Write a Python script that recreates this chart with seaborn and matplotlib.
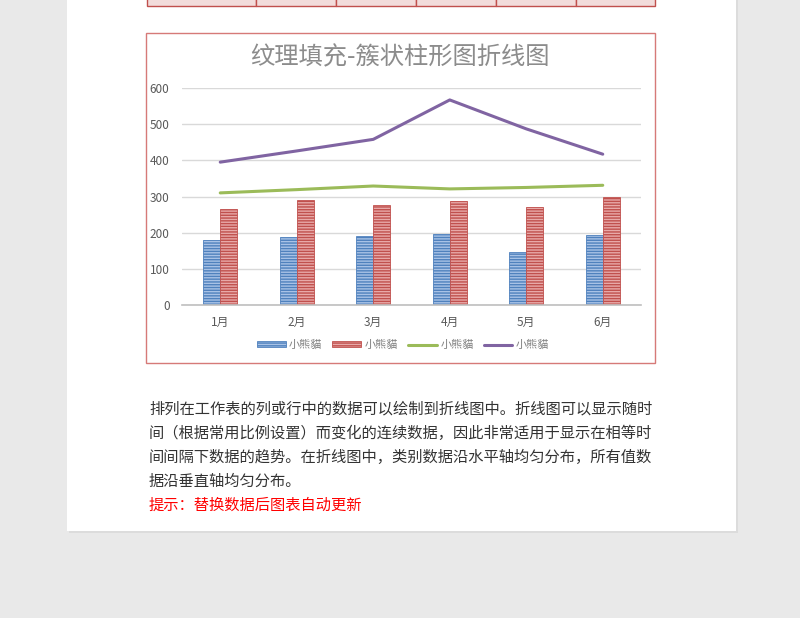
import numpy as np
import pandas as pd
import seaborn as sns
import matplotlib.pyplot as plt
from matplotlib.patches import Rectangle, Patch
from matplotlib.lines import Line2D

# 数据
months = ["1月", "2月", "3月", "4月", "5月", "6月"]
bar_blue = [180, 188, 191, 196, 147, 193]
bar_red = [265, 290, 276, 288, 271, 300]
line_green = [310, 319, 329, 321, 325, 331]
line_purple = [395, 426, 458, 567, 487, 417]
series_name = "小熊貓"

sns.set_theme(style="white")
plt.rcParams['font.family'] = ['Noto Sans CJK SC', 'DejaVu Sans']
plt.rcParams['hatch.linewidth'] = 1.0

W, H = 800, 618
fig = plt.figure(figsize=(8, 6.18), dpi=100, facecolor="#e9e9e9")


def fx(x):
    return x / W


def fy(y):
    return 1 - y / H


# 页面背景
fig.patches.append(Rectangle((fx(69), fy(533)), (738 - 69) / W, 533 / H,
                             transform=fig.transFigure, facecolor="#dcdcdc",
                             edgecolor="none", zorder=0))
fig.patches.append(Rectangle((fx(67), fy(531)), (736 - 67) / W, 531 / H,
                             transform=fig.transFigure, facecolor="white",
                             edgecolor="none", zorder=0))

# 顶部表格残留
cols = [147, 256, 336, 416, 496, 576, 655]
for a, b in zip(cols[:-1], cols[1:]):
    fig.patches.append(Rectangle((fx(a), fy(6)), (b - a) / W, 8 / H,
                                 transform=fig.transFigure, facecolor="#f2dcdb",
                                 edgecolor="#c0504d", linewidth=1.0, zorder=1))

# 图表外框
fig.patches.append(Rectangle((fx(146), fy(363)), (655 - 146) / W, (363 - 33) / H,
                             transform=fig.transFigure, facecolor="white",
                             edgecolor="#d67a78", linewidth=1.0, zorder=1))

ax = fig.add_axes([fx(182), fy(305), (641 - 182) / W, (305 - 88) / H])
ax.set_zorder(2)
ax.patch.set_alpha(0)

df = pd.DataFrame({
    "月份": months * 2,
    "数值": bar_blue + bar_red,
    "系列": ["A"] * len(months) + ["B"] * len(months),
})

fills = {"A": "#a8c2e6", "B": "#e8a9a8"}
hatch_cols = {"A": "#4f81bd", "B": "#c0504d"}

sns.barplot(data=df, x="月份", y="数值", hue="系列", palette=fills,
            width=0.45, gap=0, legend=False, ax=ax, saturation=1)

for cont, key in zip(ax.containers, ["A", "B"]):
    for p in cont:
        p.set_hatch("------")
        p.set_edgecolor(hatch_cols[key])
        p.set_linewidth(0.6)

xs = np.arange(len(months))
sns.lineplot(x=xs, y=line_green, color="#9bbb59", linewidth=2.2, ax=ax)
sns.lineplot(x=xs, y=line_purple, color="#8064a2", linewidth=2.2, ax=ax)

ax.set_xlim(-0.5, len(months) - 0.5)
ax.set_ylim(0, 600)
ax.set_yticks(range(0, 601, 100))
ax.set_xticks(xs)
ax.set_xticklabels(months)
ax.yaxis.grid(True, color="#d9d9d9", linewidth=1)
ax.set_axisbelow(True)
for s in ["left", "right", "top"]:
    ax.spines[s].set_visible(False)
ax.spines["bottom"].set_color("#bfbfbf")
ax.spines["bottom"].set_linewidth(1.2)
ax.tick_params(axis="both", length=0, labelsize=8.5, labelcolor="#595959")
ax.tick_params(axis="x", pad=8)
ax.tick_params(axis="y", pad=9)
ax.set_xlabel("")
ax.set_ylabel("")

# 标题
fig.text(fx(400), fy(57), "纹理填充-簇状柱形图折线图", ha="center", va="center",
         fontsize=17.5, color="#8c8c8c", zorder=3)

# 图例
handles = [
    Patch(facecolor=fills["A"], edgecolor=hatch_cols["A"], hatch="------", linewidth=0.6),
    Patch(facecolor=fills["B"], edgecolor=hatch_cols["B"], hatch="------", linewidth=0.6),
    Line2D([0], [0], color="#9bbb59", linewidth=2.2),
    Line2D([0], [0], color="#8064a2", linewidth=2.2),
]
leg = fig.legend(handles, [series_name] * 4, loc="center", ncol=4,
                 bbox_to_anchor=(fx(403), fy(345)), frameon=False,
                 fontsize=8, handlelength=2.6, handleheight=0.5,
                 columnspacing=0.9, handletextpad=0.3)
for t in leg.get_texts():
    t.set_color("#7f7f7f")

# 说明文字
para = [
    "排列在工作表的列或行中的数据可以绘制到折线图中。折线图可以显示随时",
    "间（根据常用比例设置）而变化的连续数据，因此非常适用于显示在相等时",
    "间间隔下数据的趋势。在折线图中，类别数据沿水平轴均匀分布，所有值数",
    "据沿垂直轴均匀分布。",
]
for i, line in enumerate(para):
    fig.text(fx(149), fy(409 + i * 24), line, ha="left", va="center",
             fontsize=11, color="#333333")
fig.text(fx(149), fy(505), "提示：替换数据后图表自动更新", ha="left", va="center",
         fontsize=11, color="#ff0000")

fig.savefig("out.png", dpi=100, facecolor=fig.get_facecolor())
